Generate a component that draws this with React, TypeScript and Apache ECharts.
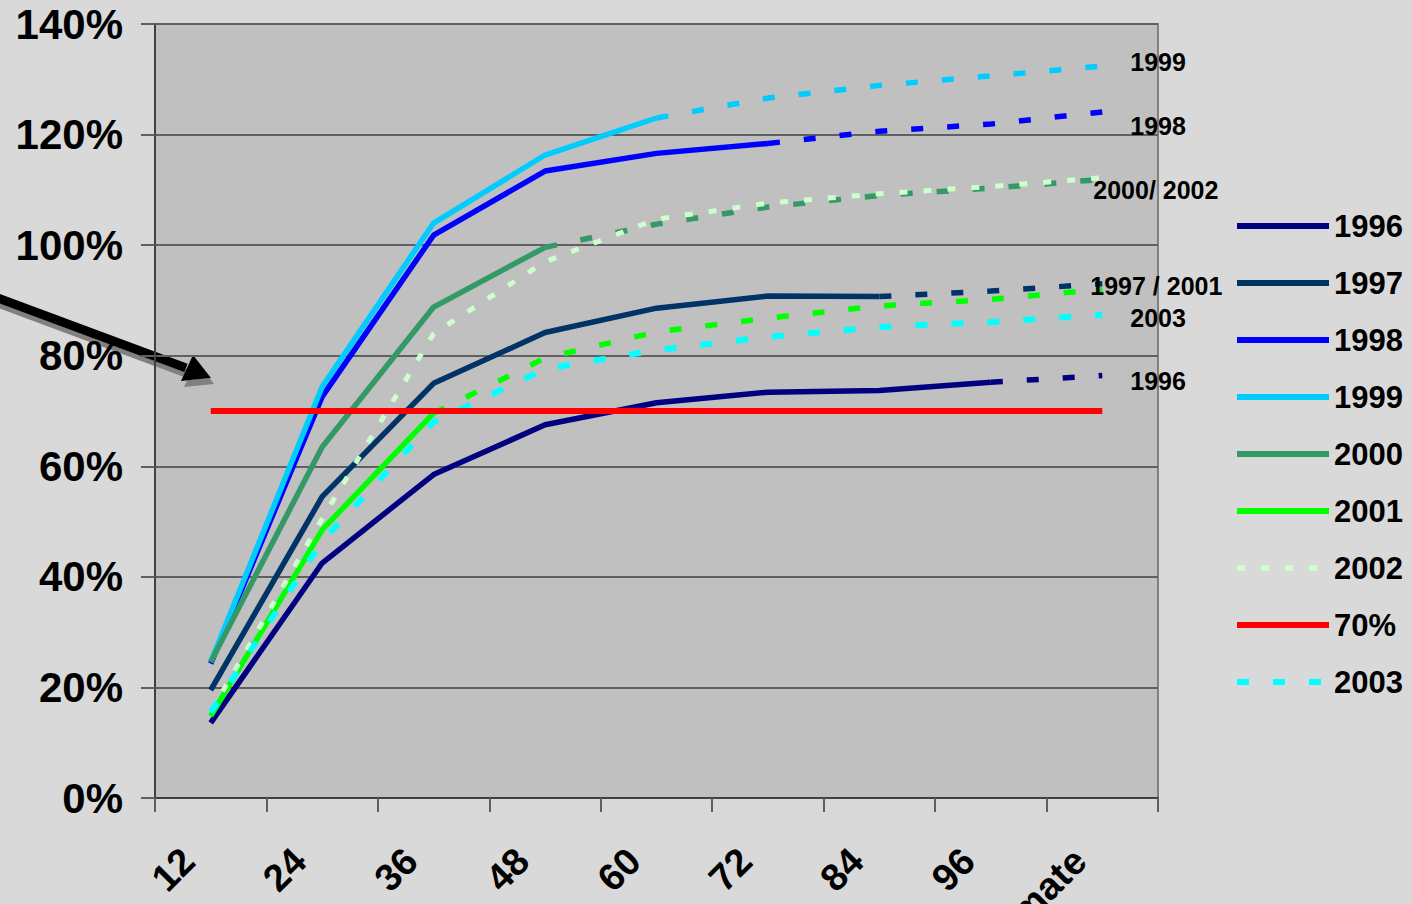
import React, { useEffect, useRef } from "react";
import * as echarts from "echarts";

const categories = ["12", "24", "36", "48", "60", "72", "84", "96", "Ultimate"];
const yTicks = [0, 20, 40, 60, 80, 100, 120, 140];

const v1996 = [13.6, 42.5, 58.5, 67.5, 71.5, 73.4, 73.7, 75.2, 76.4];
const v1997 = [19.5, 54.5, 75.0, 84.2, 88.6, 90.8, 90.7, 91.7, 93.0];
const v1998 = [24.3, 72.6, 101.8, 113.4, 116.6, 118.4, 120.6, 121.9, 124.1];
const v1999 = [24.6, 74.4, 104.0, 116.3, 123.0, 126.6, 128.9, 130.6, 132.4];
const v2000 = [24.6, 63.5, 88.8, 99.6, 103.8, 106.9, 109.0, 110.3, 111.9];
const v2001 = [14.8, 48.5, 69.6, 79.6, 84.3, 86.8, 89.0, 90.2, 92.0];
const v2002 = [15.5, 50.5, 84.0, 97.0, 104.7, 107.6, 109.3, 110.6, 112.2];
const v70 = [70, 70, 70, 70, 70, 70, 70, 70, 70];
const v2003 = [15.5, 46.5, 68.0, 77.6, 81.0, 83.4, 85.2, 86.1, 87.4];

// index of last actual (solid) point for each year
const lastActual = { "1996": 7, "1997": 6, "1998": 5, "1999": 4, "2000": 3, "2001": 2 };

const FONT = "Arial, 'Liberation Sans', sans-serif";

const solidPart = (vals: number[], k: number) => vals.map((v, i) => (i <= k ? v : "-"));
const dashPart = (vals: number[], k: number) => vals.map((v, i) => (i >= k ? v : "-"));

export default function App() {
  const ref = useRef<HTMLDivElement>(null);
  useEffect(() => {
    if (!ref.current) return;
    const chart = echarts.init(ref.current, null, { renderer: "svg" });

    const endLabel = (text: string, dx: number, dy: number) => ({
      show: true,
      formatter: text,
      offset: [dx, dy],
      distance: 5,
      color: "#000",
      fontFamily: FONT,
      fontWeight: "bold",
      fontSize: 25,
    });

    const W = 5.5;
    const pair = (name: string, vals: number[], color: string, label?: any) => {
      const k = (lastActual as any)[name];
      return [
        {
          name,
          type: "line",
          data: solidPart(vals, k),
          symbol: "none",
          lineStyle: { color, width: W, type: "solid" },
          itemStyle: { color },
          z: 3,
        },
        {
          name: name + " proj",
          type: "line",
          data: dashPart(vals, k),
          symbol: "none",
          lineStyle: { color, width: W, type: [12, 24] },
          itemStyle: { color },
          endLabel: label,
          z: 3,
        },
      ];
    };

    const series: any[] = [
      ...pair("1996", v1996, "#000080", endLabel("1996", 23, 5)),
      ...pair("1997", v1997, "#003366", endLabel("1997 / 2001", -17, 2)),
      ...pair("1998", v1998, "#0000FF", endLabel("1998", 23, 14)),
      ...pair("1999", v1999, "#00CCFF", endLabel("1999", 23, -4)),
      ...pair("2000", v2000, "#339966", endLabel("2000/ 2002", -14, 11)),
      ...pair("2001", v2001, "#00FF00"),
      {
        name: "2002",
        type: "line",
        data: v2002,
        symbol: "none",
        lineStyle: { color: "#CCFFCC", width: 5, type: [8, 16] },
        itemStyle: { color: "#CCFFCC" },
        z: 4,
      },
      {
        name: "70%",
        type: "line",
        data: v70,
        symbol: "none",
        lineStyle: { color: "#FF0000", width: 6, type: "solid" },
        itemStyle: { color: "#FF0000" },
        z: 5,
      },
      {
        name: "2003",
        type: "line",
        data: v2003,
        symbol: "none",
        lineStyle: { color: "#00FFFF", width: 6, type: [12, 24] },
        itemStyle: { color: "#00FFFF" },
        endLabel: endLabel("2003", 23, 3),
        z: 4,
      },
    ];

    chart.setOption({
      animation: false,
      backgroundColor: "#D9D9D9",
      grid: {
        left: 155,
        right: 254,
        top: 24,
        bottom: 106,
        show: true,
        backgroundColor: "#C0C0C0",
        borderColor: "#808080",
        borderWidth: 2,
        containLabel: false,
        outerBoundsMode: "none",
      },
      legend: {
        orient: "vertical",
        left: 1229,
        top: 203,
        itemWidth: 92,
        itemHeight: 14,
        itemGap: 21,
        itemStyle: { opacity: 0 },
        lineStyle: { width: 6 },
        data: ["1996", "1997", "1998", "1999", "2000", "2001", "2002", "70%", "2003"],
        textStyle: {
          color: "#000",
          fontFamily: FONT,
          fontWeight: "bold",
          fontSize: 31,
          lineHeight: 36,
        },
      },
      xAxis: {
        type: "category",
        data: categories,
        boundaryGap: true,
        axisLine: { show: true, lineStyle: { color: "#404040", width: 2 } },
        axisTick: { show: true, inside: false, length: 14, lineStyle: { color: "#606060", width: 2 } },
        splitLine: { show: false },
        axisLabel: {
          rotate: 45,
          margin: 34,
          padding: [0, 32, 0, 0],
          color: "#000",
          fontFamily: FONT,
          fontWeight: "bold",
          fontSize: 38,
          interval: 0,
        },
      },
      yAxis: {
        type: "value",
        min: yTicks[0],
        max: yTicks[yTicks.length - 1],
        interval: 20,
        axisLine: { show: true, lineStyle: { color: "#404040", width: 2 } },
        axisTick: { show: true, inside: false, length: 14, lineStyle: { color: "#606060", width: 2 } },
        splitLine: { show: true, lineStyle: { color: "#606060", width: 2 } },
        axisLabel: {
          formatter: "{value}%",
          margin: 32,
          color: "#000",
          fontFamily: FONT,
          fontWeight: "bold",
          fontSize: 42,
        },
      },
      graphic: [
        {
          type: "group",
          z: 100,
          children: [
            {
              type: "line",
              shape: { x1: -5, y1: 297, x2: 186, y2: 368 },
              style: {
                stroke: "#000",
                lineWidth: 9,
                shadowColor: "#808080",
                shadowOffsetX: 3,
                shadowOffsetY: 6,
                shadowBlur: 0,
              },
            },
            {
              type: "polygon",
              shape: { points: [[211, 378], [181, 381], [193, 355]] },
              style: {
                fill: "#000",
                shadowColor: "#808080",
                shadowOffsetX: 3,
                shadowOffsetY: 6,
                shadowBlur: 0,
              },
            },
          ],
        },
      ],
      series,
    });
    return () => chart.dispose();
  }, []);

  return (
    <div
      ref={ref}
      style={{ position: "fixed", left: 0, top: 0, width: 1412, height: 904 }}
    />
  );
}
